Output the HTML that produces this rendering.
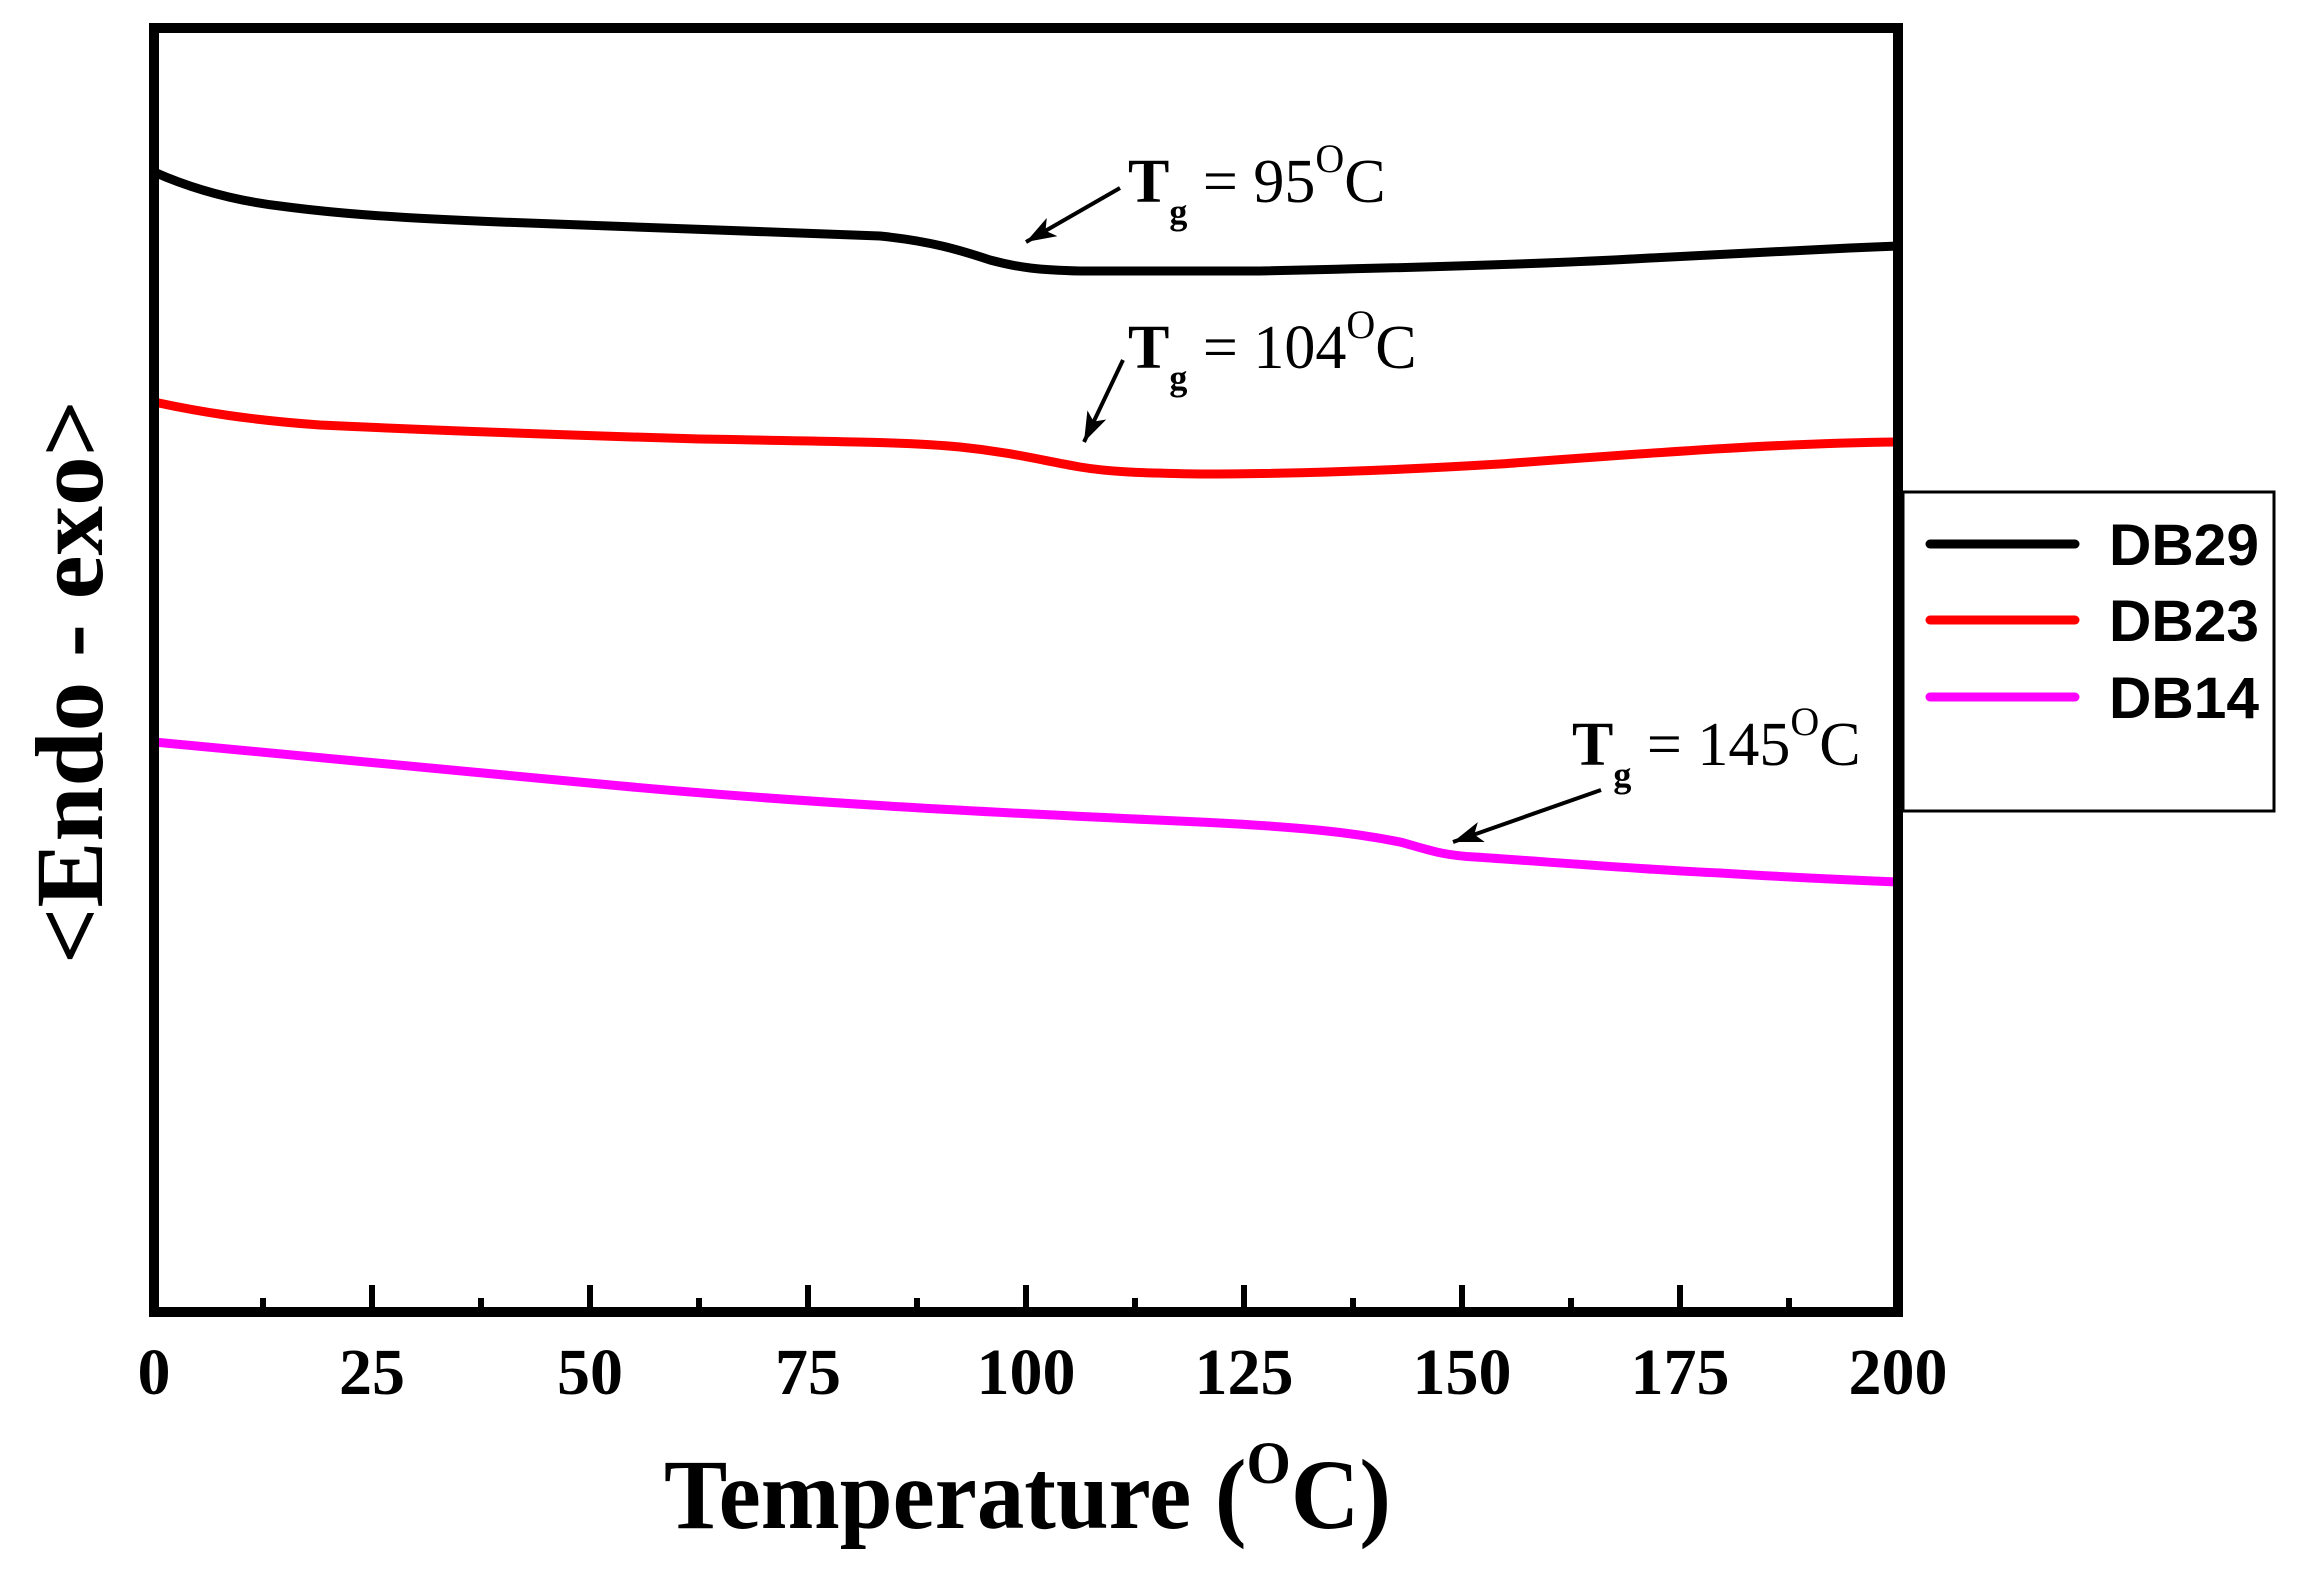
<!DOCTYPE html>
<html><head><meta charset="utf-8"><style>html,body{margin:0;padding:0;background:#fff}svg{display:block}</style></head>
<body>
<svg width="2313" height="1577" viewBox="0 0 2313 1577" xmlns="http://www.w3.org/2000/svg">
<defs>
<marker id="a2" viewBox="0 0 20 14" markerWidth="30" markerHeight="21" refX="20" refY="7" orient="auto" markerUnits="userSpaceOnUse"><path d="M0,0 L20,7 L0,14 L5,7 z" fill="#000"/></marker></defs>
<g fill="none" stroke-width="9" stroke-linejoin="round" stroke-linecap="round">
<path stroke="#000" d="M154,172 C190,188 230,200 280,206 C340,214 400,218 500,222 C620,227 760,231 880,236 C930,241 960,250 990,260 C1020,268 1040,270 1080,271 L1260,271 C1400,268 1550,264 1650,258 C1750,253 1820,249 1898,246"/>
<path stroke="#f00" d="M154,402 C200,412 250,420 320,425 C450,431 560,435 700,439 C880,442 920,443 960,447 C1010,452 1040,460 1080,467 C1110,472 1140,473 1200,474 C1300,474 1400,470 1500,464 C1650,453 1780,443 1898,442"/>
<path stroke="#f0f" d="M154,742 C300,756 450,770 600,784 C800,803 1000,813 1200,822 C1300,827 1350,832 1400,842 C1430,850 1440,855 1475,857 C1550,862 1650,870 1720,873 C1800,878 1850,880 1898,882"/>
</g>
<rect x="154" y="28" width="1744" height="1284" fill="none" stroke="#000" stroke-width="10"/>
<g stroke="#000" stroke-width="6">
<path d="M154,1312v-27M372,1312v-27M590,1312v-27M808,1312v-27M1026,1312v-27M1244,1312v-27M1462,1312v-27M1680,1312v-27M1898,1312v-27"/>
<path d="M263,1312v-14M481,1312v-14M699,1312v-14M917,1312v-14M1135,1312v-14M1353,1312v-14M1571,1312v-14M1789,1312v-14"/>
</g>
<g font-family="Liberation Serif, serif" font-weight="bold" font-size="66" text-anchor="middle">
<text x="154" y="1394">0</text><text x="372" y="1394">25</text><text x="590" y="1394">50</text><text x="808" y="1394">75</text><text x="1026" y="1394">100</text><text x="1244" y="1394">125</text><text x="1462" y="1394">150</text><text x="1680" y="1394">175</text><text x="1898" y="1394">200</text>
</g>
<text x="664" y="1528" font-family="Liberation Serif, serif" font-weight="bold" font-size="100" textLength="727" lengthAdjust="spacingAndGlyphs">Temperature (<tspan font-size="60" dy="-45">O</tspan><tspan dy="45">C)</tspan></text>
<text transform="translate(102,682) rotate(-90)" text-anchor="middle" font-family="Liberation Serif, serif" font-weight="bold" font-size="96" textLength="564" lengthAdjust="spacingAndGlyphs">&lt;Endo - exo&gt;</text>
<g font-family="Liberation Serif, serif" font-size="62">
<text x="1128" y="202"><tspan font-weight="bold">T</tspan><tspan font-size="36" font-weight="bold" dy="22">g</tspan><tspan dy="-22"> = 95</tspan><tspan font-size="40" dy="-30">O</tspan><tspan dy="30">C</tspan></text>
<text x="1128" y="368"><tspan font-weight="bold">T</tspan><tspan font-size="36" font-weight="bold" dy="22">g</tspan><tspan dy="-22"> = 104</tspan><tspan font-size="40" dy="-30">O</tspan><tspan dy="30">C</tspan></text>
<text x="1572" y="765"><tspan font-weight="bold">T</tspan><tspan font-size="36" font-weight="bold" dy="22">g</tspan><tspan dy="-22"> = 145</tspan><tspan font-size="40" dy="-30">O</tspan><tspan dy="30">C</tspan></text>
</g>
<g stroke="#000" stroke-width="4" fill="none">
<line x1="1120" y1="188" x2="1026" y2="242" marker-end="url(#a2)"/>
<line x1="1123" y1="360" x2="1084" y2="442" marker-end="url(#a2)"/>
<line x1="1601" y1="790" x2="1453" y2="842" marker-end="url(#a2)"/>
</g>
<rect x="1913" y="492" width="371" height="319" fill="#fff" stroke="#000" stroke-width="3" transform="translate(-10,0)"/>
<g stroke-width="9" stroke-linecap="round" transform="translate(-10,0)">
<line x1="1940" y1="544" x2="2085" y2="544" stroke="#000"/>
<line x1="1940" y1="620" x2="2085" y2="620" stroke="#f00"/>
<line x1="1940" y1="697" x2="2085" y2="697" stroke="#f0f"/>
</g>
<g font-family="Liberation Sans, sans-serif" font-weight="bold" font-size="58" transform="translate(-10,0)">
<text x="2119" y="565" textLength="150" lengthAdjust="spacingAndGlyphs">DB29</text>
<text x="2119" y="641" textLength="150" lengthAdjust="spacingAndGlyphs">DB23</text>
<text x="2119" y="718" textLength="150" lengthAdjust="spacingAndGlyphs">DB14</text>
</g>
</svg>
</body></html>
